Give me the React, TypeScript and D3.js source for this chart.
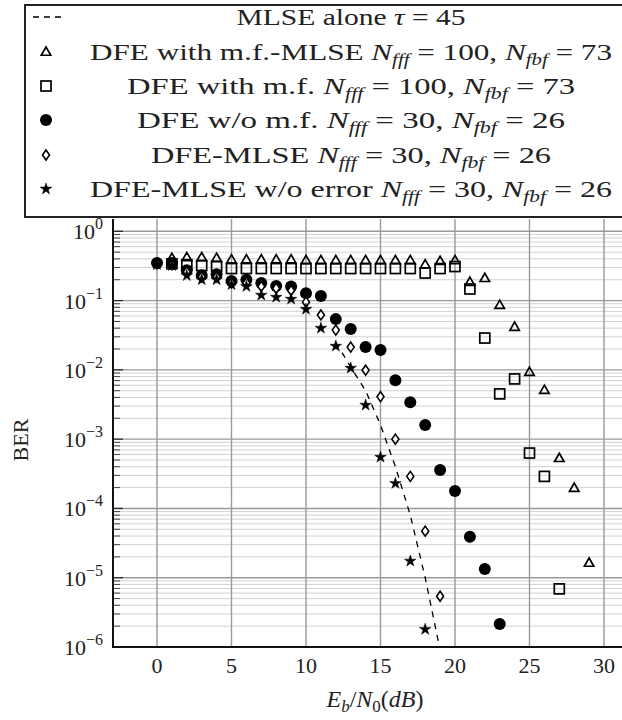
import React from 'react';
import * as d3 from 'd3';

const W = 622;
const H = 720;

const xTickValues = [0, 5, 10, 15, 20, 25, 30];
const yDecadeExps = [-6, -5, -4, -3, -2, -1, 0];
const minorMultipliers = [2, 3, 4, 5, 6, 7, 8, 9];

const mlseX = [12, 13, 14, 15, 16, 17, 18, 19];
const mlseY = [0.025, 0.011, 0.005, 0.0016, 4e-4, 8e-5, 1e-5, 9e-7];

const triX = [1, 2, 3, 4, 5, 6, 7, 8, 9, 10, 11, 12, 13, 14, 15, 16, 17, 18, 19, 20, 21, 22, 23, 24, 25, 26, 27, 28, 29];
const triY = [0.41, 0.42, 0.42, 0.41, 0.39, 0.39, 0.39, 0.39, 0.39, 0.38, 0.38, 0.38, 0.38, 0.38, 0.38, 0.38, 0.38, 0.33, 0.37, 0.38, 0.185, 0.21, 0.086, 0.0415, 0.0093, 0.0051, 5.3e-4, 1.97e-4, 1.63e-5];

const sqX = [1, 2, 3, 4, 5, 6, 7, 8, 9, 10, 11, 12, 13, 14, 15, 16, 17, 18, 19, 20, 21, 22, 23, 24, 25, 26, 27];
const sqY = [0.34, 0.33, 0.32, 0.31, 0.29, 0.29, 0.29, 0.29, 0.29, 0.29, 0.29, 0.29, 0.29, 0.29, 0.29, 0.29, 0.29, 0.25, 0.29, 0.31, 0.147, 0.0288, 0.0045, 0.0074, 6.3e-4, 2.9e-4, 6.9e-6];

const circX = [0, 1, 2, 3, 4, 5, 6, 7, 8, 9, 10, 11, 12, 13, 14, 15, 16, 17, 18, 19, 20, 21, 22, 23];
const circY = [0.35, 0.35, 0.275, 0.233, 0.24, 0.191, 0.2, 0.179, 0.162, 0.16, 0.128, 0.116, 0.054, 0.039, 0.0213, 0.0193, 0.0071, 0.0034, 0.0016, 3.6e-4, 1.78e-4, 3.9e-5, 1.34e-5, 2.15e-6];

const diaX = [0, 1, 2, 3, 4, 5, 6, 7, 8, 9, 10, 11, 12, 13, 14, 15, 16, 17, 18, 19];
const diaY = [0.34, 0.33, 0.26, 0.22, 0.22, 0.18, 0.18, 0.16, 0.15, 0.14, 0.095, 0.062, 0.0375, 0.0213, 0.0099, 0.0041, 0.001, 2.9e-4, 4.7e-5, 5.4e-6];

const starX = [0, 1, 2, 3, 4, 5, 6, 7, 8, 9, 10, 11, 12, 13, 14, 15, 16, 17, 18];
const starY = [0.33, 0.32, 0.23, 0.2, 0.2, 0.17, 0.16, 0.12, 0.112, 0.105, 0.075, 0.04, 0.022, 0.0106, 0.0031, 5.5e-4, 2.3e-4, 1.74e-5, 1.8e-6];

type Seg = [string, 'r' | 'i' | 's'];
const legendRows: Seg[][] = [
  [['MLSE alone ', 'r'], ['τ', 'i'], [' = 45', 'r']],
  [['DFE with m.f.-MLSE ', 'r'], ['N', 'i'], ['fff', 's'], [' = 100, ', 'r'], ['N', 'i'], ['fbf', 's'], [' = 73', 'r']],
  [['DFE with m.f. ', 'r'], ['N', 'i'], ['fff', 's'], [' = 100, ', 'r'], ['N', 'i'], ['fbf', 's'], [' = 73', 'r']],
  [['DFE w/o m.f. ', 'r'], ['N', 'i'], ['fff', 's'], [' = 30, ', 'r'], ['N', 'i'], ['fbf', 's'], [' = 26', 'r']],
  [['DFE-MLSE ', 'r'], ['N', 'i'], ['fff', 's'], [' = 30, ', 'r'], ['N', 'i'], ['fbf', 's'], [' = 26', 'r']],
  [['DFE-MLSE w/o error ', 'r'], ['N', 'i'], ['fff', 's'], [' = 30, ', 'r'], ['N', 'i'], ['fbf', 's'], [' = 26', 'r']],
];
const legendMarks = ['dash', 'tri', 'sq', 'circ', 'dia', 'star'];
const legendWidths = [229, 522, 448, 428, 400, 522];

const FONT = "'Liberation Serif', 'Times New Roman', serif";

function renderSegs(segs: Seg[]) {
  const out: React.ReactNode[] = [];
  let inSub = false;
  segs.forEach((s, i) => {
    const [t, k] = s;
    if (k === 's') {
      out.push(<tspan key={i} fontStyle="italic" fontSize={16} dy={inSub ? 0 : 5}>{t}</tspan>);
      inSub = true;
    } else {
      out.push(<tspan key={i} fontStyle={k === 'i' ? 'italic' : 'normal'} dy={inSub ? -5 : 0}>{t}</tspan>);
      inSub = false;
    }
  });
  return out;
}

function Marker({ kind, cx, cy }: { kind: string; cx: number; cy: number }) {
  if (kind === 'tri') {
    const r = 5;
    const p = `M${cx},${cy - r} L${cx + r * 0.95},${cy + r * 0.65} L${cx - r * 0.95},${cy + r * 0.65} Z`;
    return <path d={p} fill="none" stroke="black" strokeWidth={1.7} strokeLinejoin="miter" />;
  }
  if (kind === 'sq') {
    return <rect x={cx - 5} y={cy - 5} width={10} height={10} fill="none" stroke="black" strokeWidth={1.7} />;
  }
  if (kind === 'circ') {
    return <circle cx={cx} cy={cy} r={6} fill="black" />;
  }
  if (kind === 'dia') {
    const p = `M${cx},${cy - 5} L${cx + 3.5},${cy} L${cx},${cy + 5} L${cx - 3.5},${cy} Z`;
    return <path d={p} fill="white" stroke="black" strokeWidth={1.6} />;
  }
  if (kind === 'star') {
    const d = d3.symbol().type(d3.symbolStar).size(42)() as string;
    return <path d={d} transform={`translate(${cx},${cy})`} fill="black" stroke="black" strokeWidth={0.5} />;
  }
  return null;
}

export default function App() {
  const left = 113;
  const right = 660;
  const top = 219;
  const bottom = 647;
  const x = d3.scaleLinear().domain([0, 30]).range([157, 604]);
  const y = d3.scaleLog().domain([1e-6, 1]).range([647, 231.3]);

  const minorVals: number[] = [];
  yDecadeExps.slice(0, -1).forEach((e) => minorMultipliers.forEach((m) => minorVals.push(m * Math.pow(10, e))));
  minorMultipliers.forEach((m) => {
    const v = m * 1;
    if (y(v) >= top) minorVals.push(v);
  });

  const line = d3.line<number>().x((_, i) => x(mlseX[i])).y((d) => y(d));

  const series = [
    { kind: 'tri', xs: triX, ys: triY },
    { kind: 'sq', xs: sqX, ys: sqY },
    { kind: 'circ', xs: circX, ys: circY },
    { kind: 'dia', xs: diaX, ys: diaY },
    { kind: 'star', xs: starX, ys: starY },
  ];

  const rowY = [17, 52, 86, 120, 155, 189];

  return (
    <svg width={W} height={H} style={{ position: 'absolute', left: 0, top: 0, background: 'white' }} fontFamily={FONT}>
      <defs>
        <clipPath id="plotclip">
          <rect x={left} y={top} width={right - left} height={bottom - top} />
        </clipPath>
      </defs>
      <rect x={0} y={0} width={W} height={H} fill="white" />
      <g clipPath="url(#plotclip)">
        {minorVals.map((v, i) => (
          <line key={'mn' + i} x1={left} x2={right} y1={y(v)} y2={y(v)} stroke="#d2d2d2" strokeWidth={1} />
        ))}
        {yDecadeExps.map((e) => (
          <line key={'mj' + e} x1={left} x2={right} y1={y(Math.pow(10, e))} y2={y(Math.pow(10, e))} stroke="#999" strokeWidth={1.4} />
        ))}
        {xTickValues.map((t) => (
          <line key={'vx' + t} x1={x(t)} x2={x(t)} y1={top} y2={bottom} stroke="#999" strokeWidth={1.4} />
        ))}
        {minorVals.map((v, i) => (
          <line key={'mt' + i} x1={left} x2={left + 7} y1={y(v)} y2={y(v)} stroke="#444" strokeWidth={1} />
        ))}
        {yDecadeExps.map((e) => (
          <line key={'mt2' + e} x1={left} x2={left + 10} y1={y(Math.pow(10, e))} y2={y(Math.pow(10, e))} stroke="#222" strokeWidth={1.2} />
        ))}
        <path d={line(mlseY) as string} fill="none" stroke="black" strokeWidth={1.3} strokeDasharray="6,6" />
        {series.map((s) =>
          s.xs.map((xv, i) => <Marker key={s.kind + i} kind={s.kind} cx={x(xv)} cy={y(s.ys[i])} />)
        )}
      </g>
      <line x1={left} x2={left} y1={top} y2={bottom + 1} stroke="#111" strokeWidth={2} />
      <line x1={left - 1} x2={right} y1={bottom} y2={bottom} stroke="#111" strokeWidth={2} />
      {yDecadeExps.map((e) => (
        <text key={'yl' + e} x={103} y={y(Math.pow(10, e)) + 8} textAnchor="end" fontSize={22} fill="#222">
          10<tspan dy={-10} fontSize={16}>{e < 0 ? '−' + Math.abs(e) : String(e)}</tspan>
        </text>
      ))}
      {xTickValues.map((t) => (
        <text key={'xl' + t} x={x(t)} y={673} textAnchor="middle" fontSize={22} fill="#222">
          {t}
        </text>
      ))}
      <text x={375} y={707} textAnchor="middle" fontSize={24} fill="#222">
        <tspan fontStyle="italic">E</tspan>
        <tspan fontStyle="italic" fontSize={17} dy={5}>b</tspan>
        <tspan dy={-5}>/</tspan>
        <tspan fontStyle="italic">N</tspan>
        <tspan fontSize={17} dy={5}>0</tspan>
        <tspan dy={-5}>(</tspan>
        <tspan fontStyle="italic">dB</tspan>
        <tspan>)</tspan>
      </text>
      <text transform="translate(28,440) rotate(-90)" textAnchor="middle" fontSize={22} fill="#222">
        BER
      </text>
      <rect x={25} y={5} width={640} height={212} fill="white" stroke="#222" strokeWidth={2} />
      {legendRows.map((row, r) => (
        <g key={'lg' + r}>
          {legendMarks[r] === 'dash' ? (
            <line x1={33} x2={63} y1={rowY[r]} y2={rowY[r]} stroke="black" strokeWidth={1.5} strokeDasharray="6,5" />
          ) : (
            <Marker kind={legendMarks[r]} cx={46} cy={rowY[r]} />
          )}
          <text
            x={351}
            y={rowY[r] + 8}
            textAnchor="middle"
            fontSize={24}
            fill="#222"
            textLength={legendWidths[r]}
            lengthAdjust="spacingAndGlyphs"
          >
            {renderSegs(row)}
          </text>
        </g>
      ))}
    </svg>
  );
}
